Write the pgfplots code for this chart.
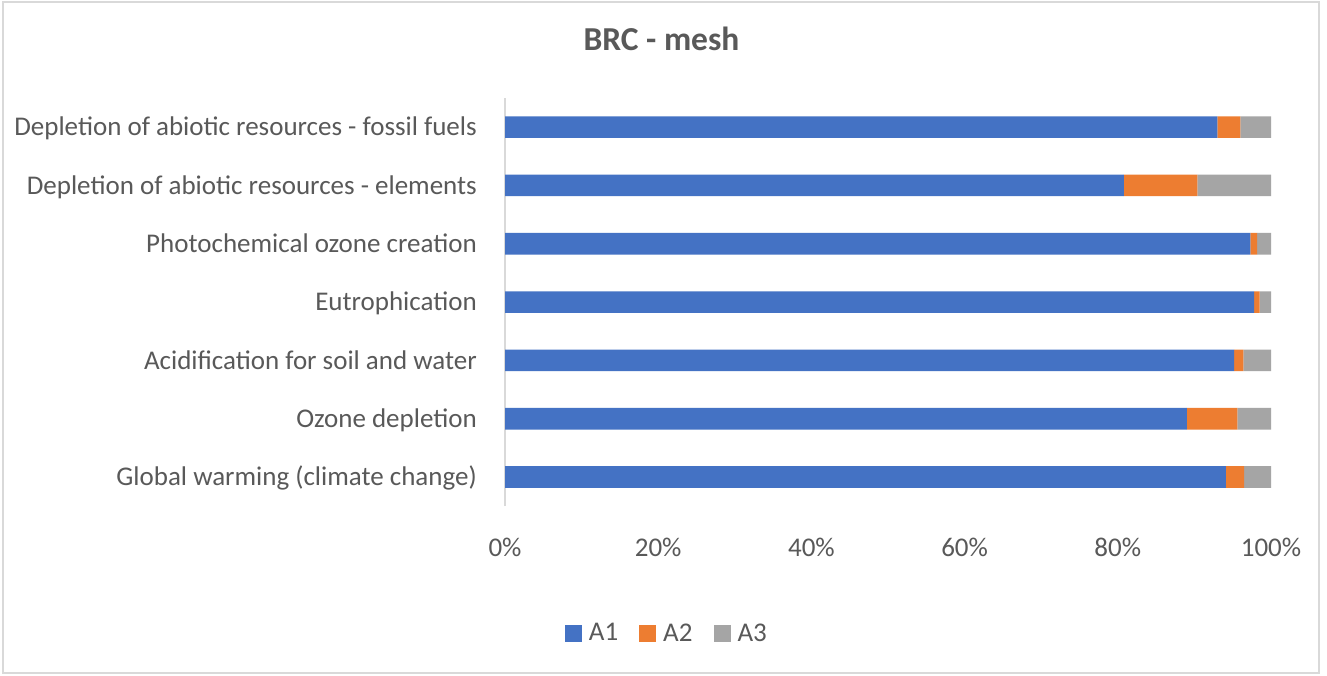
\documentclass[border=0pt]{standalone}
\usepackage{fontspec}
\setmainfont{Carlito}
\usepackage{pgfplots}
\pgfplotsset{compat=1.18}
\definecolor{cA}{HTML}{4472C4}
\definecolor{cB}{HTML}{ED7D31}
\definecolor{cC}{HTML}{A5A5A5}
\definecolor{txt}{HTML}{595959}
\definecolor{frm}{HTML}{D9D9D9}
\begin{document}
\begin{tikzpicture}[x=1pt,y=1pt]
\useasboundingbox (0,0) rectangle (1327,675);
\fill[white] (0,0) rectangle (1327,675);
\draw[frm, line width=1.5pt] (3,2) rectangle (1319,673);
\begin{axis}[
  at={(505pt,168.8pt)}, anchor=south west,
  scale only axis, width=766pt, height=408.3pt,
  xbar stacked, bar width=21.6pt,
  xmin=0, xmax=100, ymin=-0.5, ymax=6.5,
  enlargelimits=false,
  axis lines*=left,
  axis line style={-},
  x axis line style={draw=none},
  y axis line style={draw=frm, line width=1.3pt},
  major tick length=0pt,
  xtick={0,20,40,60,80,100},
  xticklabels={0\%,20\%,40\%,60\%,80\%,100\%},
  ytick={0,1,2,3,4,5,6},
  yticklabels={Global warming (climate change),Ozone depletion,Acidification for soil and water,Eutrophication,Photochemical ozone creation,Depletion of abiotic resources - elements,Depletion of abiotic resources - fossil fuels},
  tick label style={font=\fontsize{27}{32}\selectfont, text=txt, inner sep=0pt},
  xticklabel style={anchor=base, yshift=-50pt},
  yticklabel style={anchor=base east, xshift=-28pt, yshift=-8.7pt},
  title={BRC - mesh},
  title style={at={(0.2043,1)}, anchor=base, yshift=41.8pt, inner sep=0pt, font=\fontsize{33.5}{40}\selectfont\bfseries, text=txt},
  legend columns=3,
  legend style={at={(0.210,-0.3106)}, anchor=center, draw=none, fill=none, inner sep=0pt,
    nodes={inner sep=0pt, text=txt, font=\fontsize{27}{32}\selectfont},
    /tikz/every odd column/.append style={column sep=7pt},
    /tikz/every even column/.append style={column sep=21pt}},
  legend image code/.code={\fill[#1] (0pt,-8.5pt) rectangle (17pt,8.5pt);},
]
\addplot[fill=cA, draw=none] coordinates {(94.1,0) (89.0,1) (95.2,2) (97.8,3) (97.3,4) (80.8,5) (93.0,6)};
\addplot[fill=cB, draw=none] coordinates {(2.4,0) (6.6,1) (1.2,2) (0.7,3) (0.9,4) (9.6,5) (3.0,6)};
\addplot[fill=cC, draw=none] coordinates {(3.5,0) (4.4,1) (3.6,2) (1.5,3) (1.8,4) (9.6,5) (4.0,6)};
\legend{A1,A2,A3}
\end{axis}
\end{tikzpicture}
\end{document}
